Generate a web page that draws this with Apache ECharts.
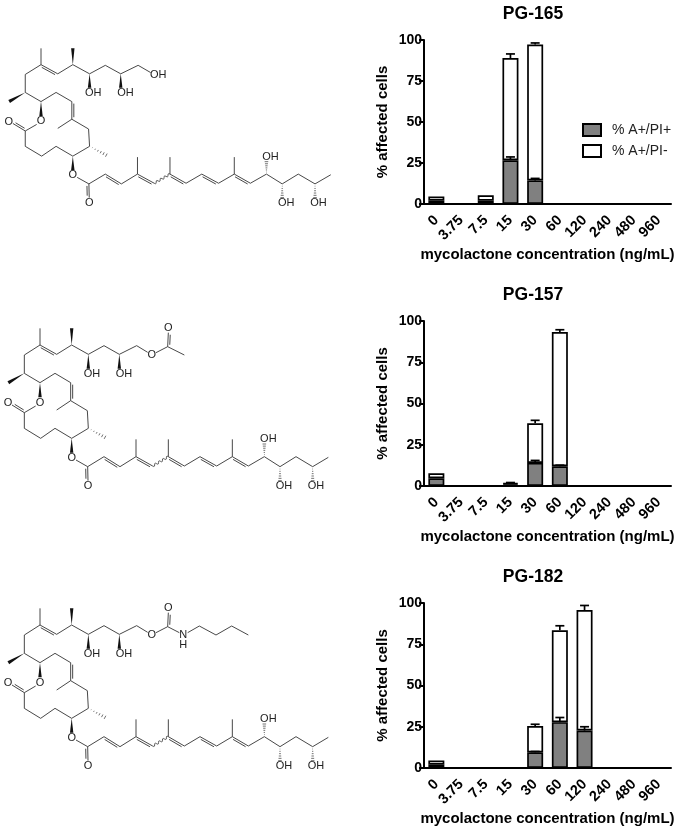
<!DOCTYPE html>
<html>
<head>
<meta charset="utf-8">
<style>
  html, body { margin: 0; padding: 0; background: #fff; }
  #fig { width: 679px; height: 830px; }
</style>
<script src="https://cdn.jsdelivr.net/npm/echarts@6/dist/echarts.min.js"></script>
</head>
<body>
<div id="fig"></div>
<script>
// Chart values
const concentrations = ['0', '3.75', '7.5', '15', '30', '60', '120', '240', '480', '960']
const compounds = ['PG-165', 'PG-157', 'PG-182']
const seriesPos = '% A+/PI+'
const seriesNeg = '% A+/PI-'

const pg165_pos = [2, 0, 2, 26.7, 14.4, 0, 0, 0, 0, 0]
const pg165_neg = [2.5, 0, 3.3, 62.3, 82.8, 0, 0, 0, 0, 0]
const pg165_pos_err = [0, 0, 0, 2, 1.2, 0, 0, 0, 0, 0]
const pg165_neg_err = [0, 0, 0, 2.5, 1, 0, 0, 0, 0, 0]

const pg157_pos = [4.7, 0, 0, 1, 14, 12, 0, 0, 0, 0]
const pg157_neg = [3, 0, 0, 0.8, 24, 81.3, 0, 0, 0, 0]
const pg157_pos_err = [0, 0, 0, 0, 1.5, 0.6, 0, 0, 0, 0]
const pg157_neg_err = [0, 0, 0, 0.3, 1.8, 1.4, 0, 0, 0, 0]

const pg182_pos = [2, 0, 0, 0, 9.5, 27.8, 22.7, 0, 0, 0]
const pg182_neg = [2.5, 0, 0, 0, 15.9, 55.7, 73, 0, 0, 0]
const pg182_pos_err = [0, 0, 0, 0, 0.5, 2.8, 2.3, 0, 0, 0]
const pg182_neg_err = [0, 0, 0, 0, 1.1, 2.7, 2.8, 0, 0, 0]

const pos_values = [pg165_pos, pg157_pos, pg182_pos]
const neg_values = [pg165_neg, pg157_neg, pg182_neg]
const pos_errors = [pg165_pos_err, pg157_pos_err, pg182_pos_err]
const neg_errors = [pg165_neg_err, pg157_neg_err, pg182_neg_err]

// Layout of the three panels
const grid_tops = [40, 321, 603]
const grid_heights = [164, 165, 165]

// Structure drawings (not chart data). Coordinates are in 3x pixels.
// kinds: s single, d double (last value = side of second line), w wedge, h hash, z wavy
const core_bonds = [
  [120, 55, 120, 105, 's'], [120, 105, 73, 135, 's'], [120, 105, 170, 133, 'd', 1],
  [170, 133, 215, 105, 's'], [215, 105, 215, 55, 'w'], [215, 105, 265, 133, 's'],
  [265, 133, 265, 176, 'w'], [265, 133, 312, 107, 's'], [312, 107, 358, 133, 's'],
  [358, 133, 358, 176, 'w'], [358, 133, 410, 107, 's'],
  [73, 135, 73, 190, 's'], [73, 190, 25, 218, 'w'], [73, 190, 120, 218, 's'],
  [120, 218, 120, 262, 'w'], [120, 218, 165, 190, 's'], [165, 190, 212, 218, 's'],
  [212, 218, 212, 272, 'd', -1], [212, 272, 170, 300, 's'], [212, 272, 262, 302, 's'],
  [262, 302, 265, 355, 's'], [265, 355, 315, 382, 'h'], [265, 355, 215, 385, 's'],
  [215, 385, 215, 428, 'w'], [215, 385, 165, 355, 's'], [165, 355, 122, 385, 's'],
  [122, 385, 73, 355, 's'], [73, 355, 73, 308, 's'], [73, 308, 36, 285, 'd', 1],
  [73, 308, 107, 288, 's'],
  [228, 450, 263, 470, 's'], [263, 470, 264, 512, 'd', 1], [263, 470, 312, 440, 's'],
  [312, 440, 360, 470, 'd', 1], [360, 470, 408, 440, 's'], [408, 440, 408, 388, 's'],
  [408, 440, 458, 468, 'd', 1], [458, 468, 505, 440, 'z'], [505, 440, 505, 388, 's'],
  [505, 440, 553, 468, 'd', 1], [553, 468, 600, 440, 's'], [600, 440, 650, 468, 'd', 1],
  [650, 468, 697, 440, 's'], [697, 440, 697, 388, 's'], [697, 440, 745, 468, 'd', 1],
  [745, 468, 793, 440, 's'], [793, 440, 793, 402, 'h'], [793, 440, 840, 470, 's'],
  [840, 470, 840, 512, 'h'], [840, 470, 888, 440, 's'], [888, 440, 938, 470, 's'],
  [938, 470, 938, 512, 'h'], [938, 470, 985, 442, 's'],
]
const core_labels = [
  ['O', 120, 278], ['O', 24, 279], ['O', 215, 443], ['O', 264, 527],
  ['OH', 276, 193], ['OH', 372, 193], ['OH', 805, 387], ['OH', 852, 527], ['OH', 948, 527],
]
const tail_bonds = [
  [[410, 107, 447, 129, 's']],
  [[410, 107, 443, 127, 's'], [468, 128, 503, 110, 's'], [503, 110, 505, 68, 'd', 1], [503, 110, 553, 135, 's']],
  [[410, 107, 443, 127, 's'], [468, 128, 503, 110, 's'], [503, 110, 505, 68, 'd', 1], [503, 110, 538, 128, 's'],
   [563, 128, 598, 108, 's'], [598, 108, 648, 135, 's'], [648, 135, 695, 108, 's'], [695, 108, 745, 135, 's']],
]
const tail_labels = [
  [['OH', 470, 138]],
  [['O', 455, 136], ['O', 505, 55]],
  [['O', 455, 136], ['O', 505, 55], ['N', 550, 135], ['H', 550, 166]],
]
const mol_frames = [
  {sx: 1.005, sy: 0.98, dx: 3, dy: 30},
  {sx: 1, sy: 1, dx: 0, dy: 310},
  {sx: 1, sy: 1, dx: 0, dy: 590},
]

const ink = '#333333'

function moleculeGraphics(idx) {
  const f = mol_frames[idx]
  const px = x => (120 + (x - 120) * f.sx + f.dx) / 3
  const py = y => (55 + (y - 55) * f.sy) / 3 + f.dy
  const out = []
  const line = (x1, y1, x2, y2, w) => out.push({
    type: 'line', silent: true,
    shape: {x1, y1, x2, y2},
    style: {stroke: ink, lineWidth: w || 0.9},
  })
  core_bonds.concat(tail_bonds[idx]).forEach(b => {
    const x1 = px(b[0]), y1 = py(b[1]), x2 = px(b[2]), y2 = py(b[3])
    const len = Math.hypot(x2 - x1, y2 - y1)
    const nx = -(y2 - y1) / len, ny = (x2 - x1) / len
    if (b[4] === 's') {
      line(x1, y1, x2, y2)
    } else if (b[4] === 'd') {
      line(x1, y1, x2, y2)
      const o = 2 * b[5]
      const ux = (x2 - x1) / len, uy = (y2 - y1) / len
      line(x1 + nx * o + ux * 2, y1 + ny * o + uy * 2, x2 + nx * o - ux * 2, y2 + ny * o - uy * 2)
    } else if (b[4] === 'w') {
      out.push({
        type: 'polygon', silent: true,
        shape: {points: [[x1, y1], [x2 + nx * 1.7, y2 + ny * 1.7], [x2 - nx * 1.7, y2 - ny * 1.7]]},
        style: {fill: '#111'},
      })
    } else if (b[4] === 'h') {
      for (let i = 1; i <= 6; i++) {
        const t = i / 6, cx = x1 + (x2 - x1) * t, cy = y1 + (y2 - y1) * t, hw = 1.8 * t
        line(cx - nx * hw, cy - ny * hw, cx + nx * hw, cy + ny * hw, 0.7)
      }
    } else if (b[4] === 'z') {
      // wavy bond
      const pts = []
      for (let i = 0; i <= 24; i++) {
        const t = i / 24, a = Math.sin(t * Math.PI * 8) * 1.2
        pts.push([x1 + (x2 - x1) * t + nx * a, y1 + (y2 - y1) * t + ny * a])
      }
      out.push({
        type: 'polyline', silent: true,
        shape: {points: pts},
        style: {stroke: ink, lineWidth: 0.8, fill: null},
      })
    }
  })
  core_labels.concat(tail_labels[idx]).forEach(l => {
    out.push({
      type: 'text', silent: true,
      style: {
        text: l[0], x: px(l[1]), y: py(l[2]),
        font: '11px "Liberation Sans"', fill: '#222',
        textAlign: 'center', textVerticalAlign: 'middle',
      },
    })
  })
  return out
}

// Error bars are one-sided, so a custom series draws them from the bar top upward
function renderError(params, api) {
  const i = api.value(0)
  const top = api.coord([i, api.value(1)])
  const end = api.coord([i, api.value(1) + api.value(2)])
  const style = {stroke: '#000', lineWidth: 1.7, fill: null}
  return {
    type: 'group',
    children: [
      {type: 'line', shape: {x1: top[0], y1: top[1], x2: end[0], y2: end[1]}, style},
      {type: 'line', shape: {x1: end[0] - 4.5, y1: end[1], x2: end[0] + 4.5, y2: end[1]}, style},
    ],
  }
}

const font_family = '"Liberation Sans", Arial, sans-serif'
const titles = [], grids = [], xAxes = [], yAxes = [], series = []

compounds.forEach((name, idx) => {
  titles.push({
    text: name, left: 528, textAlign: 'center', top: grid_tops[idx] - 40,
    textStyle: {fontFamily: font_family, fontSize: 17.5, fontWeight: 'bold', color: '#000'},
  })
  grids.push({left: 424, width: 247, top: grid_tops[idx], height: grid_heights[idx]})
  xAxes.push({
    type: 'category', gridIndex: idx, data: concentrations,
    name: 'mycolactone concentration (ng/mL)', nameLocation: 'middle', nameGap: 43,
    nameTextStyle: {fontFamily: font_family, fontSize: 15, fontWeight: 'bold', color: '#000'},
    axisLine: {lineStyle: {color: '#000', width: 2}},
    axisTick: {alignWithLabel: true, length: 5, lineStyle: {color: '#000', width: 2}},
    axisLabel: {
      interval: 0, rotate: 45, margin: 14, color: '#000',
      fontFamily: font_family, fontSize: 14.5, fontWeight: 'bold',
    },
    splitLine: {show: false},
  })
  yAxes.push({
    type: 'value', gridIndex: idx, min: 0, max: 100, interval: 25,
    name: '% affected cells', nameLocation: 'middle', nameGap: 34,
    nameTextStyle: {fontFamily: font_family, fontSize: 15, fontWeight: 'bold', color: '#000'},
    axisLine: {show: true, lineStyle: {color: '#000', width: 2}},
    axisTick: {show: true, length: 5, lineStyle: {color: '#000', width: 2}},
    axisLabel: {margin: 2, color: '#000', fontFamily: font_family, fontSize: 14, fontWeight: 'bold'},
    splitLine: {show: false},
  })
  const bar = (label, data, fill) => ({
    type: 'bar', name: label, stack: 'cells' + idx,
    xAxisIndex: idx, yAxisIndex: idx, data, barWidth: 16,
    itemStyle: {color: fill, borderColor: '#000', borderWidth: 1.7},
    silent: true, animation: false,
  })
  series.push(bar(seriesPos, pos_values[idx], '#808080'))
  series.push(bar(seriesNeg, neg_values[idx], '#ffffff'))
  const err_pts = []
  concentrations.forEach((c, i) => {
    if (pos_errors[idx][i] > 0) err_pts.push([i, pos_values[idx][i], pos_errors[idx][i]])
    if (neg_errors[idx][i] > 0) err_pts.push([i, pos_values[idx][i] + neg_values[idx][i], neg_errors[idx][i]])
  })
  series.push({
    type: 'custom', xAxisIndex: idx, yAxisIndex: idx, data: err_pts,
    renderItem: renderError, silent: true, animation: false, z: 3,
  })
})

const fig = echarts.init(document.getElementById('fig'), null, {renderer: 'canvas'})
fig.setOption({
  animation: false,
  backgroundColor: '#fff',
  title: titles,
  grid: grids,
  xAxis: xAxes,
  yAxis: yAxes,
  series,
  legend: {
    data: [seriesPos, seriesNeg],
    orient: 'vertical', left: 577, top: 118,
    itemWidth: 18, itemHeight: 12, itemGap: 7,
    icon: 'rect', selectedMode: false,
    itemStyle: {borderColor: '#000', borderWidth: 2},
    textStyle: {fontFamily: font_family, fontSize: 14, color: '#222', padding: [0, 0, 0, 6]},
  },
  graphic: {
    elements: [0, 1, 2].map(i => ({type: 'group', silent: true, children: moleculeGraphics(i)})),
  },
})
</script>
</body>
</html>
